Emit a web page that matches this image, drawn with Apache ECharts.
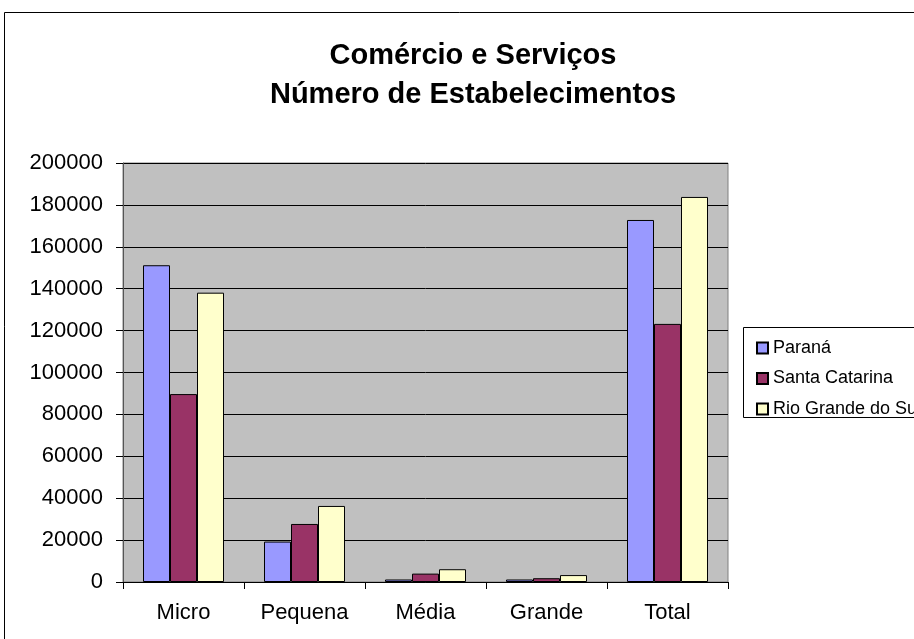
<!DOCTYPE html>
<html>
<head>
<meta charset="utf-8">
<script src="https://cdn.jsdelivr.net/npm/echarts@6/dist/echarts.min.js"></script>
<style>
html,body{margin:0;padding:0;background:#fff;}
#chart{width:914px;height:639px;}
</style>
</head>
<body>
<div id="chart"></div>
<script>
const categories = ['Micro', 'Pequena', 'Média', 'Grande', 'Total'];
const parana = [151200, 19300, 1200, 1200, 172800];
const santaCatarina = [89700, 27700, 4000, 1800, 123200];
const rioGrandeDoSul = [138100, 36300, 6100, 3300, 183800];
const seriesNames = ['Paraná', 'Santa Catarina', 'Rio Grande do Sul'];
const seriesColors = ['#9999FF', '#993366', '#FFFFCC'];
const titleText = 'Comércio e Serviços\nNúmero de Estabelecimentos';

const FONT = '"Liberation Sans", Arial, sans-serif';
const chart = echarts.init(document.getElementById('chart'), null, {renderer: 'canvas'});
const seriesData = [parana, santaCatarina, rioGrandeDoSul];

chart.setOption({
  animation: false,
  backgroundColor: '#ffffff',
  title: {
    text: titleText,
    left: 468,
    textAlign: 'center',
    top: 31,
    textStyle: {fontFamily: FONT, fontSize: 29, fontWeight: 'bold', color: '#000', lineHeight: 39}
  },
  graphic: [
    {type: 'rect', shape: {x: 4.5, y: 12.5, width: 1000, height: 1000}, style: {fill: 'none', stroke: '#000', lineWidth: 1}, z: -10, silent: true},
    {type: 'rect', shape: {x: 743.5, y: 327.5, width: 300, height: 90}, style: {fill: '#fff', stroke: '#000', lineWidth: 1}, z: -5, silent: true}
  ],
  legend: {
    orient: 'vertical',
    left: 751,
    top: 333,
    itemWidth: 11,
    itemHeight: 11,
    itemGap: 10.5,
    icon: 'rect',
    textStyle: {fontFamily: FONT, fontSize: 18, color: '#000', lineHeight: 20},
    data: seriesNames
  },
  grid: {left: 123, top: 163, right: 186, bottom: 57, show: true, backgroundColor: '#C0C0C0', borderColor: '#808080', borderWidth: 1},
  xAxis: {
    type: 'category',
    data: categories,
    boundaryGap: true,
    axisLine: {show: true, lineStyle: {color: '#000', width: 1}},
    axisTick: {show: true, length: 7, inside: false, lineStyle: {color: '#000'}, alignWithLabel: false},
    axisLabel: {fontFamily: FONT, fontSize: 22, color: '#000', margin: 20}
  },
  yAxis: {
    type: 'value',
    min: 0,
    max: 200000,
    interval: 20000,
    axisLine: {show: true, lineStyle: {color: '#555', width: 1}},
    axisTick: {show: true, length: 7, inside: false, lineStyle: {color: '#000'}},
    axisLabel: {fontFamily: FONT, fontSize: 22, color: '#000', margin: 20, formatter: v => String(v)},
    splitLine: {show: true, lineStyle: {color: '#000', width: 1}}
  },
  series: seriesNames.map((name, i) => ({
    name: name,
    type: 'bar',
    data: seriesData[i],
    barWidth: 27,
    barGap: '0%',
    itemStyle: {color: seriesColors[i], borderColor: '#000', borderWidth: 1}
  }))
});
</script>
</body>
</html>
